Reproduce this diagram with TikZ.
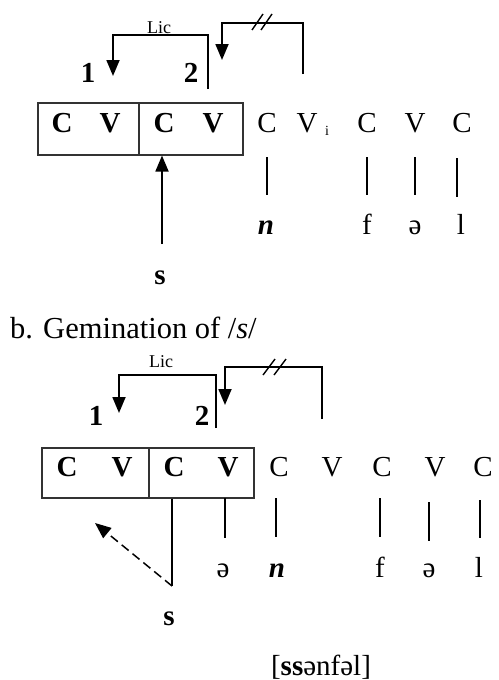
\documentclass[tikz,border=0pt]{standalone}
\usepackage{fontspec}
\setmainfont{Liberation Serif}
\usetikzlibrary{arrows.meta}
\begin{document}
\begin{tikzpicture}[x=1pt,y=-1pt,
  seg/.style={draw=black!80, line width=1.1pt, rectangle, inner sep=0pt},
  bl/.style={font=\fontsize{29}{31}\selectfont\bfseries, anchor=base, inner sep=0pt},
  bil/.style={font=\fontsize{29}{31}\selectfont\bfseries\itshape, anchor=base, inner sep=0pt},
  rl/.style={font=\fontsize{29}{31}\selectfont, anchor=base, inner sep=0pt},
  lic/.style={font=\fontsize{18}{20}\selectfont, anchor=base, inner sep=0pt},
  ln/.style={line width=1.8pt},
  sl/.style={line width=1.4pt},
  arr/.style={line width=1.8pt, -{Triangle[width=13pt,length=16pt]}},
  darr/.style={line width=1.5pt, dash pattern=on 9pt off 5pt, -{Triangle[width=13pt,length=16pt]}},
]
\useasboundingbox (0,0) rectangle (498,680);

% ---------- diagram a ----------
\node[seg, minimum width=101pt, minimum height=52pt] (boxA1) at (88.5,129) {};
\node[seg, minimum width=104pt, minimum height=52pt] (boxA2) at (191,129) {};
\node[bl] (a1) at (62,132) {C};
\node[bl] (a2) at (110,132) {V};
\node[bl] (a3) at (164,132) {C};
\node[bl] (a4) at (213,132) {V};
\node[rl] (a5) at (267,132) {C};
\node[rl] (a6) at (307,132) {V};
\node[font=\fontsize{14}{16}\selectfont, anchor=base, inner sep=0pt] (a6i) at (327,135) {i};
\node[rl] (a7) at (367,132) {C};
\node[rl] (a8) at (415,132) {V};
\node[rl] (a9) at (462,132) {C};

\node[bl] (oneA) at (88,82) {1};
\node[bl] (twoA) at (191,82) {2};
\node[lic] (licA) at (159,33) {Lic};

\coordinate (la1) at (113,35);
\coordinate (la2) at (208,35);
\coordinate (la3) at (208,89);
\coordinate (lat) at (113,76);
\draw[arr] (la3) -- (la2) -- (la1) -- (lat);

\coordinate (da1) at (222,23);
\coordinate (da2) at (303,23);
\coordinate (da3) at (303,74);
\coordinate (dat) at (222,60);
\draw[arr] (da3) -- (da2) -- (da1) -- (dat);
\draw[sl] (252,30) -- (263,14);
\draw[sl] (261,30) -- (272,14);

\coordinate (va5t) at (267,157); \coordinate (va5b) at (267,195);
\coordinate (va7t) at (367,157); \coordinate (va7b) at (367,195);
\coordinate (va8t) at (415,157); \coordinate (va8b) at (415,195);
\coordinate (va9t) at (457,158); \coordinate (va9b) at (457,197);
\draw[ln] (va5t) -- (va5b);
\draw[ln] (va7t) -- (va7b);
\draw[ln] (va8t) -- (va8b);
\draw[ln] (va9t) -- (va9b);

\node[bil] (nA) at (266,234) {n};
\node[rl] (fA) at (367,234) {f};
\node[rl] (schwaA) at (415,234) {ə};
\node[rl] (lA) at (461,234) {l};
\node[bl] (sA) at (160,284) {s};
\coordinate (upA) at (162,244);
\draw[arr] (upA) -- (upA |- boxA2.south);

% ---------- caption ----------
\node[anchor=base west, inner sep=0pt, font=\fontsize{30.5}{32}\selectfont] (cap) at (10,338) {b. Gemination of /\textit{s}/};

% ---------- diagram b ----------
\node[seg, minimum width=107pt, minimum height=50pt] (boxB1) at (95.5,473) {};
\node[seg, minimum width=105pt, minimum height=50pt] (boxB2) at (201.5,473) {};
\node[bl] (b1) at (67,476) {C};
\node[bl] (b2) at (122,476) {V};
\node[bl] (b3) at (174,476) {C};
\node[bl] (b4) at (228,476) {V};
\node[rl] (b5) at (279,476) {C};
\node[rl] (b6) at (332,476) {V};
\node[rl] (b7) at (382,476) {C};
\node[rl] (b8) at (435,476) {V};
\node[rl] (b9) at (483,476) {C};

\node[bl] (oneB) at (96,425) {1};
\node[bl] (twoB) at (202,425) {2};
\node[lic] (licB) at (161,367) {Lic};

\coordinate (lb1) at (119,375);
\coordinate (lb2) at (216,375);
\coordinate (lb3) at (216,428);
\coordinate (lbt) at (119,413);
\draw[arr] (lb3) -- (lb2) -- (lb1) -- (lbt);

\coordinate (db1) at (225,367);
\coordinate (db2) at (322,367);
\coordinate (db3) at (322,419);
\coordinate (dbt) at (225,405);
\draw[arr] (db3) -- (db2) -- (db1) -- (dbt);
\draw[sl] (263,375) -- (275,359);
\draw[sl] (274,375) -- (286,359);

\coordinate (vsb) at (172,586);
\draw[ln] (vsb |- boxB2.south) -- (vsb);
\coordinate (dtip) at (95,523);
\draw[darr] (vsb) -- (dtip);

\coordinate (vb4t) at (225,498); \coordinate (vb4b) at (225,538);
\coordinate (vb5t) at (276,498); \coordinate (vb5b) at (276,537);
\coordinate (vb7t) at (380,498); \coordinate (vb7b) at (380,537);
\coordinate (vb8t) at (429,502); \coordinate (vb8b) at (429,541);
\coordinate (vb9t) at (480,500); \coordinate (vb9b) at (480,538);
\draw[ln] (vb4t) -- (vb4b);
\draw[ln] (vb5t) -- (vb5b);
\draw[ln] (vb7t) -- (vb7b);
\draw[ln] (vb8t) -- (vb8b);
\draw[ln] (vb9t) -- (vb9b);

\node[rl] (schwaB1) at (223,577) {ə};
\node[bil] (nB) at (277,577) {n};
\node[rl] (fB) at (380,577) {f};
\node[rl] (schwaB2) at (429,577) {ə};
\node[rl] (lB) at (479,577) {l};
\node[bl] (sB) at (169,625) {s};
\node[rl] (ipa) at (321,675) {[\textbf{ss}ənfəl]};
\end{tikzpicture}
\end{document}
